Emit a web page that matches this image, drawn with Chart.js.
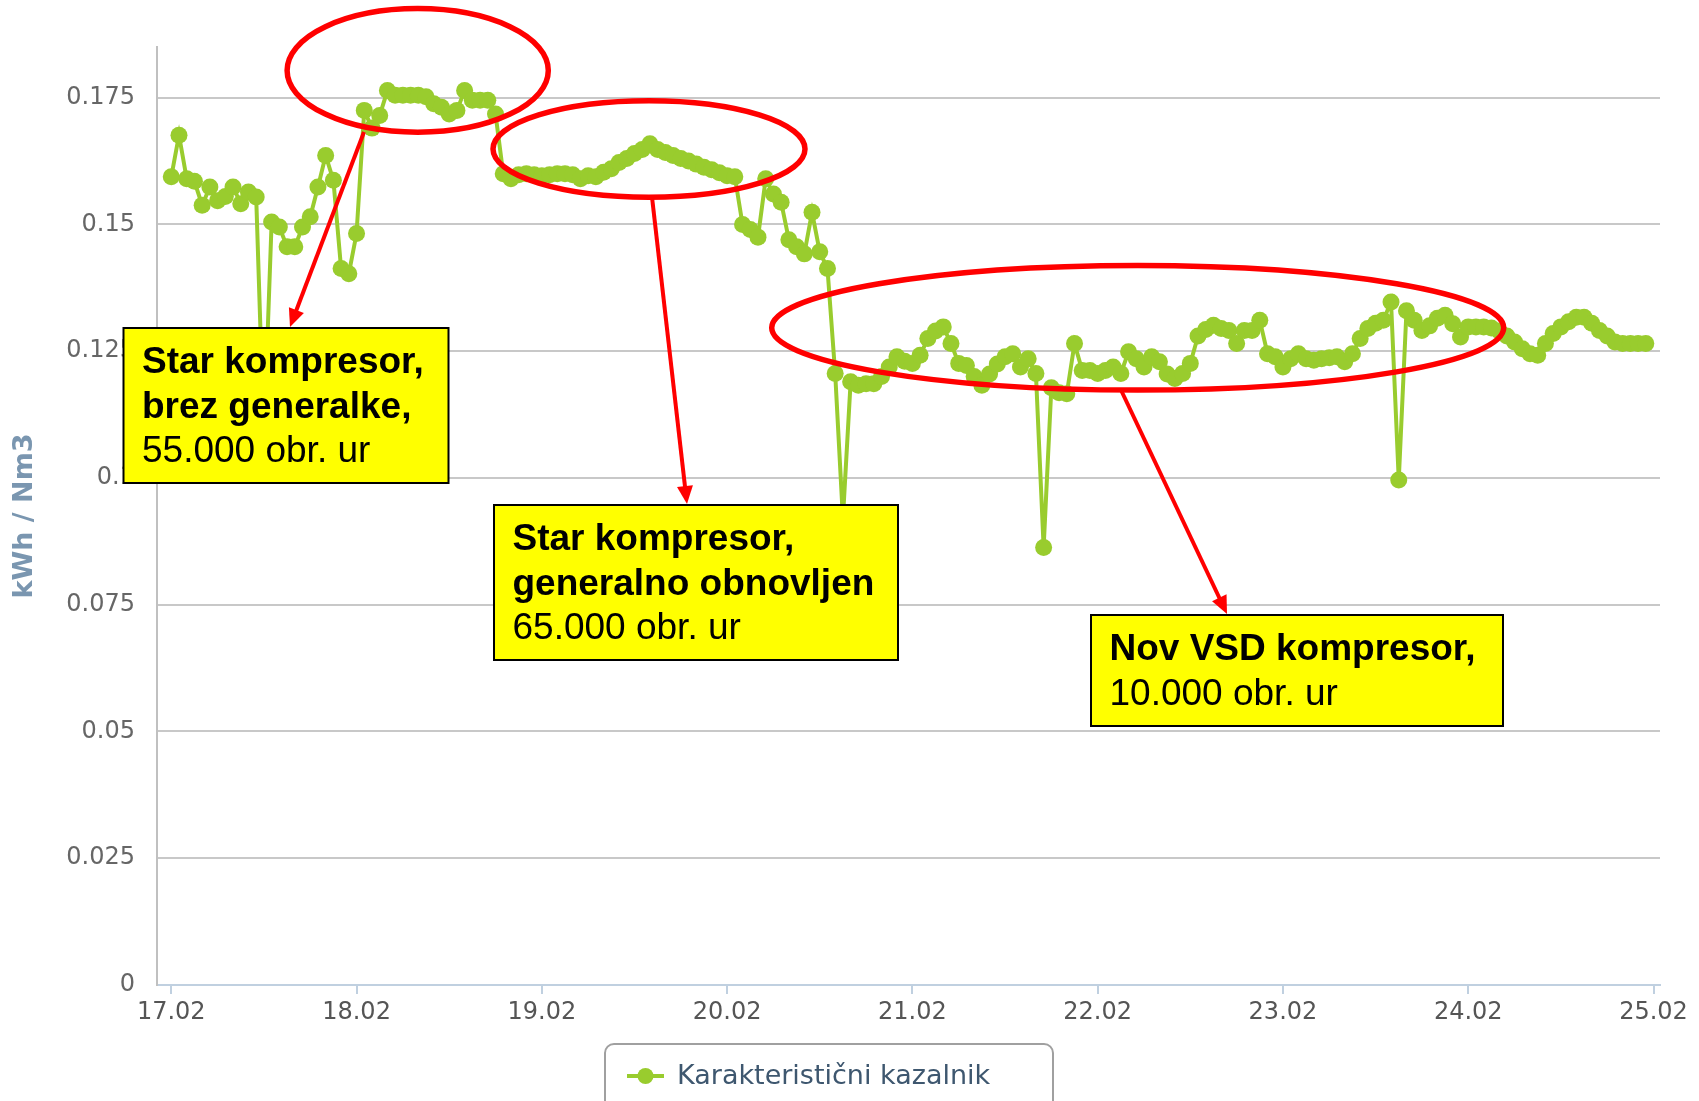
<!DOCTYPE html>
<html>
<head>
<meta charset="utf-8">
<script src="https://cdn.jsdelivr.net/npm/chart.js@4.4.1/dist/chart.umd.min.js"></script>
<style>
  html, body { margin: 0; padding: 0; background: #fff; }
  #wrap { width: 1699px; height: 1101px; position: relative; overflow: hidden; }
</style>
</head>
<body>
<div id="wrap"><canvas id="chart" width="1699" height="1101"></canvas></div>
<script>
// series + axis text
const seriesName = 'Karakteristični kazalnik';
const axisTitle = 'kWh / Nm3';
const dayLabels = ['17.02', '18.02', '19.02', '20.02', '21.02', '22.02', '23.02', '24.02', '25.02'];
const yTicks = [0, 0.025, 0.05, 0.075, 0.1, 0.125, 0.15, 0.175];

// hourly readings, one array per day (00:00 .. 23:00)
const day17 = [0.1594, 0.1676, 0.1590, 0.1585, 0.1538, 0.1574, 0.1547, 0.1555, 0.1574, 0.1541, 0.1564, 0.1554,
               0.1080, 0.1505, 0.1495, 0.1456, 0.1456, 0.1495, 0.1515, 0.1574, 0.1636, 0.1587, 0.1413, 0.1403];
const day18 = [0.1482, 0.1725, 0.1690, 0.1715, 0.1764, 0.1755, 0.1755, 0.1755, 0.1755, 0.1752, 0.1738, 0.1731,
               0.1718, 0.1725, 0.1764, 0.1745, 0.1745, 0.1745, 0.1718, 0.1600, 0.1590, 0.1598, 0.1600, 0.1598];
const day19 = [0.1596, 0.1598, 0.1600, 0.1600, 0.1598, 0.1590, 0.1596, 0.1594, 0.1603, 0.1610, 0.1622, 0.1630,
               0.1640, 0.1648, 0.1659, 0.1648, 0.1642, 0.1636, 0.1630, 0.1625, 0.1619, 0.1613, 0.1608, 0.1602];
const day20 = [0.1596, 0.1594, 0.1500, 0.1490, 0.1475, 0.1590, 0.1560, 0.1544, 0.1470, 0.1456, 0.1442, 0.1524,
               0.1446, 0.1413, 0.1206, 0.0920, 0.1190, 0.1183, 0.1186, 0.1186, 0.1200, 0.1219, 0.1239, 0.1230];
const day21 = [0.1226, 0.1242, 0.1275, 0.1290, 0.1298, 0.1265, 0.1226, 0.1222, 0.1200, 0.1183, 0.1205, 0.1225,
               0.1239, 0.1245, 0.1219, 0.1235, 0.1206, 0.0863, 0.1178, 0.1168, 0.1166, 0.1265, 0.1212, 0.1212];
const day22 = [0.1206, 0.1212, 0.1219, 0.1206, 0.1249, 0.1235, 0.1219, 0.1239, 0.1229, 0.1205, 0.1196, 0.1206,
               0.1226, 0.1280, 0.1293, 0.1301, 0.1295, 0.1291, 0.1265, 0.1291, 0.1291, 0.1311, 0.1245, 0.1239];
const day23 = [0.1219, 0.1235, 0.1245, 0.1235, 0.1232, 0.1235, 0.1237, 0.1239, 0.1229, 0.1245, 0.1275, 0.1295,
               0.1305, 0.1311, 0.1347, 0.0996, 0.1330, 0.1311, 0.1291, 0.1300, 0.1315, 0.1321, 0.1304, 0.1278];
const day24 = [0.1298, 0.1298, 0.1298, 0.1296, 0.1290, 0.1280, 0.1268, 0.1255, 0.1245, 0.1242, 0.1265, 0.1285,
               0.1298, 0.1308, 0.1317, 0.1317, 0.1305, 0.1291, 0.1280, 0.1268, 0.1265, 0.1265, 0.1265, 0.1265];

const days = [day17, day18, day19, day20, day21, day22, day23, day24];
const points = [];
days.forEach((arr, d) => arr.forEach((v, h) => points.push({ x: d + h / 24, y: v })));

// callout notes drawn on top of the chart
const notes = [
  { lines: [['Star kompresor,', true], ['brez generalke,', true], ['55.000 obr. ur', false]],
    box: [123.5, 328, 325, 155], ellipse: [417.7, 70.4, 130.6, 61.8], arrow: [364, 132, 290, 327] },
  { lines: [['Star kompresor,', true], ['generalno obnovljen', true], ['65.000 obr. ur', false]],
    box: [494, 505, 404, 155], ellipse: [649, 149, 156, 48.2], arrow: [652, 197, 687, 504] },
  { lines: [['Nov VSD kompresor,', true], ['10.000 obr. ur', false]],
    box: [1091, 615, 412, 111], ellipse: [1137.7, 327.8, 366, 62.3], arrow: [1121, 390, 1227, 614] }
];

const lineGreen = '#99CC2E';
const tickFont = { family: 'DejaVu Sans', size: 24 };

function drawArrow(ctx, x1, y1, x2, y2) {
  const ang = Math.atan2(y2 - y1, x2 - x1);
  const len = 18, half = 8;
  ctx.beginPath();
  ctx.moveTo(x1, y1);
  ctx.lineTo(x2 - Math.cos(ang) * len * 0.8, y2 - Math.sin(ang) * len * 0.8);
  ctx.stroke();
  ctx.beginPath();
  ctx.moveTo(x2, y2);
  ctx.lineTo(x2 - Math.cos(ang) * len - Math.sin(ang) * half, y2 - Math.sin(ang) * len + Math.cos(ang) * half);
  ctx.lineTo(x2 - Math.cos(ang) * len + Math.sin(ang) * half, y2 - Math.sin(ang) * len - Math.cos(ang) * half);
  ctx.closePath();
  ctx.fill();
}

const overlay = {
  id: 'overlay',
  afterDraw(chart) {
    const ctx = chart.ctx;
    ctx.save();

    // red ellipses and arrows
    ctx.strokeStyle = '#FF0000';
    ctx.fillStyle = '#FF0000';
    notes.forEach(n => {
      const [cx, cy, rx, ry] = n.ellipse;
      ctx.lineWidth = 5.5;
      ctx.beginPath();
      ctx.ellipse(cx, cy, rx, ry, 0, 0, Math.PI * 2);
      ctx.stroke();
      ctx.lineWidth = 4;
      drawArrow(ctx, ...n.arrow);
    });

    // yellow boxes
    notes.forEach(n => {
      const [x, y, w, h] = n.box;
      ctx.fillStyle = '#FFFF00';
      ctx.fillRect(x, y, w, h);
      ctx.lineWidth = 2;
      ctx.strokeStyle = '#000';
      ctx.strokeRect(x, y, w, h);
      ctx.fillStyle = '#000';
      ctx.textBaseline = 'middle';
      ctx.textAlign = 'left';
      n.lines.forEach(([txt, bold], i) => {
        ctx.font = (bold ? 'bold ' : '') + '37px "Liberation Sans", Arial, sans-serif';
        ctx.fillText(txt, x + 18.5, y + 35 + i * 44.5);
      });
    });

    // legend
    const lx = 605, ly = 1044, lw = 448, lh = 80;
    ctx.lineWidth = 2;
    ctx.strokeStyle = '#A0A0A0';
    ctx.beginPath();
    ctx.roundRect(lx, ly, lw, lh, 9);
    ctx.stroke();
    ctx.strokeStyle = lineGreen;
    ctx.fillStyle = lineGreen;
    ctx.lineWidth = 4;
    ctx.beginPath();
    ctx.moveTo(627, 1076);
    ctx.lineTo(664, 1076);
    ctx.stroke();
    ctx.beginPath();
    ctx.arc(645.5, 1076, 8, 0, Math.PI * 2);
    ctx.fill();
    ctx.fillStyle = '#3E576F';
    ctx.font = '27px "DejaVu Sans", sans-serif';
    ctx.textBaseline = 'middle';
    ctx.fillText(chart.data.datasets[0].label, 677, 1077);

    ctx.restore();
  }
};

new Chart(document.getElementById('chart').getContext('2d'), {
  type: 'line',
  data: {
    datasets: [{
      label: seriesName,
      data: points,
      borderColor: lineGreen,
      backgroundColor: lineGreen,
      borderWidth: 4,
      pointRadius: 8.5,
      pointBorderWidth: 0,
      pointHoverRadius: 8.5,
      tension: 0,
      fill: false
    }]
  },
  options: {
    responsive: false,
    animation: false,
    layout: { padding: { left: 0, top: 47, right: 39, bottom: 0 } },
    plugins: {
      legend: { display: false },
      tooltip: { enabled: false }
    },
    scales: {
      x: {
        type: 'linear',
        min: -0.077,
        max: 8.035,
        afterBuildTicks: s => { s.ticks = dayLabels.map((_, i) => ({ value: i })); },
        afterFit: s => { s.height = 116; },
        grid: { drawOnChartArea: false, drawTicks: true, tickLength: 9, color: '#C0D0E0', lineWidth: 2 },
        border: { color: '#C0D0E0', width: 2 },
        ticks: {
          callback: (v, i) => dayLabels[i],
          font: tickFont,
          color: '#555',
          padding: 4,
          maxRotation: 0,
          autoSkip: false
        }
      },
      y: {
        min: 0,
        max: 0.185,
        afterBuildTicks: s => { s.ticks = yTicks.map(v => ({ value: v })); },
        afterFit: s => { s.width = 157; },
        grid: { color: '#C8C8C8', lineWidth: 2, drawTicks: false },
        border: { color: '#C0C0C0', width: 2 },
        ticks: {
          callback: v => String(+v.toFixed(3)),
          font: tickFont,
          color: '#666',
          padding: 22
        },
        title: {
          display: true,
          text: axisTitle,
          color: '#7A96B0',
          font: { family: 'DejaVu Sans', size: 27, weight: 'bold' },
          padding: { top: 9, bottom: 0 }
        }
      }
    }
  },
  plugins: [overlay]
});
</script>
</body>
</html>
